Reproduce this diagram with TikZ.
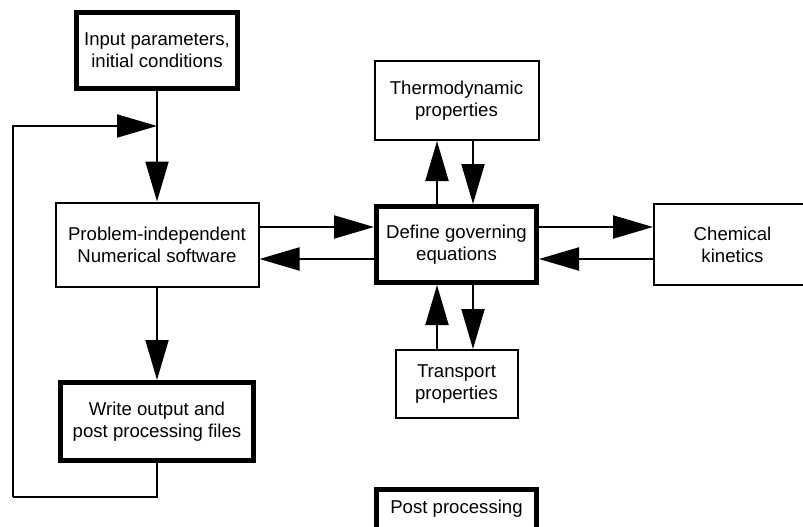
\documentclass[tikz,border=0pt]{standalone}
\usepackage{fontspec}
\setmainfont{Liberation Sans}
\usetikzlibrary{arrows.meta,calc}
\tikzset{
  box/.style={draw=black, line width=2pt, fill=white, inner sep=0pt, align=center,
              font=\fontsize{18.6}{22}\selectfont},
  thickbox/.style={box, line width=5pt},
  arr/.style={draw=black, line width=2pt, -{Triangle[length=40pt,width=23pt]}},
  ln/.style={draw=black, line width=2pt}
}
\begin{document}
\begin{tikzpicture}[x=1pt,y=-1pt]
\useasboundingbox (0,0) rectangle (803,527);
\clip (0,0) rectangle (803,527);
\node[thickbox, minimum width=161pt, minimum height=76pt] (input) at (157,50.5) {Input parameters,\\initial conditions};
\node[box, minimum width=164pt, minimum height=79pt] (thermo) at (456.5,100.5) {Thermodynamic\\properties};
\node[box, minimum width=203pt, minimum height=84pt] (problem) at (157,244.5) {Problem-independent\\Numerical software};
\node[thickbox, minimum width=160pt, minimum height=76pt] (gov) at (456.5,244.5) {Define governing\\equations};
\node[box, minimum width=157pt, minimum height=81pt, anchor=west] (chem) at (653,244.5) {Chemical\\kinetics};
\node[box, minimum width=122pt, minimum height=68pt] (transport) at (456.5,384) {Transport\\properties};
\node[thickbox, minimum width=193pt, minimum height=78pt] (write) at (157,421.5) {Write output and\\post processing files};
\node[thickbox, minimum width=160pt, minimum height=40pt, anchor=north] (post) at (456.5,486.5) {Post processing};
\coordinate (j) at (157,126);
\coordinate (lb) at (13,497);
% main flow
\draw[arr] (input.south) -- (problem.north);
\draw[arr] (problem.south) -- (write.north);
\draw[ln] (write.south) |- (lb);
\draw[arr] (lb) |- (j);
% horizontal exchanges
\draw[arr] ([yshift=17.5pt]problem.east) -- ([yshift=17.5pt]gov.west);
\draw[arr] ([yshift=-14.5pt]gov.west) -- ([yshift=-14.5pt]problem.east);
\draw[arr] ([yshift=17.5pt]gov.east) -- ([yshift=17.5pt]chem.west);
\draw[arr] ([yshift=-14.5pt]chem.west) -- ([yshift=-14.5pt]gov.east);
% vertical exchanges
\draw[arr] ([xshift=-19.5pt]gov.north) -- ([xshift=-19.5pt]thermo.south);
\draw[arr] ([xshift=16.5pt]thermo.south) -- ([xshift=16.5pt]gov.north);
\draw[arr] ([xshift=-19.5pt]transport.north) -- ([xshift=-19.5pt]gov.south);
\draw[arr] ([xshift=16.5pt]gov.south) -- ([xshift=16.5pt]transport.north);
\end{tikzpicture}
\end{document}
